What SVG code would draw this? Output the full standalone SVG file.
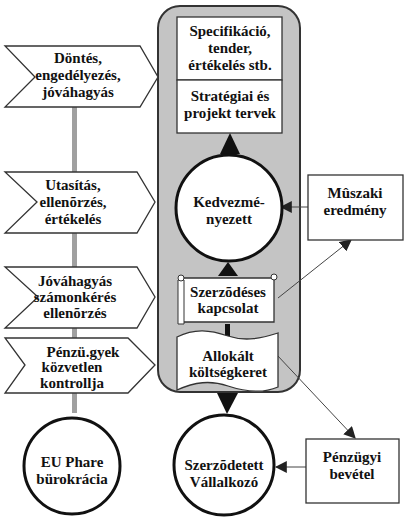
<svg xmlns="http://www.w3.org/2000/svg" width="409" height="526" viewBox="0 0 409 526">
<defs>
<style>
text{font-family:'Liberation Serif','Times New Roman',serif;font-weight:bold;font-size:15px;fill:#111;text-anchor:middle}
.chev{fill:#fff;stroke:#333;stroke-width:1.3}
.box{fill:#fff;stroke:#333;stroke-width:1.3}
.circ{fill:#fff;stroke:#111;stroke-width:3}
.thin{stroke:#444;stroke-width:1;fill:none}
.tri{fill:#111}
</style>
<marker id="ah" viewBox="0 0 10 10" refX="9" refY="5" markerWidth="12" markerHeight="12" markerUnits="userSpaceOnUse" orient="auto">
<path d="M0,0 L10,5 L0,10 Z" fill="#222"/>
</marker>
</defs>
<rect width="409" height="526" fill="#fff"/>
<g id="container">
<rect x="158" y="6" width="142" height="386" rx="22" fill="#c4c4c4" stroke="#333" stroke-width="2"/>
</g>
<g id="spine">
<rect x="72" y="107" width="5" height="306" fill="#a0a0a0"/>
</g>
<g id="connectors">
<polygon class="tri" points="230,133 220,154 240,154"/>
<polygon class="tri" points="228,262 218,276 238,276"/>
<rect x="225" y="324" width="5" height="12" fill="#111"/>
<polygon class="tri" points="217,393 238,393 227,414"/>
<line class="thin" x1="308" y1="207" x2="281" y2="207" marker-end="url(#ah)"/>
<line class="thin" x1="278" y1="298" x2="351" y2="240" marker-end="url(#ah)"/>
<line class="thin" x1="277" y1="355" x2="355" y2="438" marker-end="url(#ah)"/>
<line class="thin" x1="306" y1="467" x2="276" y2="467" marker-end="url(#ah)"/>
</g>
<g id="chev1">
<polygon class="chev" points="5,46 140,46 158,77 140,107 5,107 35,77"/>
<text x="78" y="63">Döntés,</text>
<text x="78" y="80">engedélyezés,</text>
<text x="78" y="97">jóváhagyás</text>
</g>
<g id="chev2">
<polygon class="chev" points="5,172 137,172 155,202 137,233 5,233 37,202"/>
<text x="73" y="190">Utasítás,</text>
<text x="73" y="207">ellenõrzés,</text>
<text x="73" y="224">értékelés</text>
</g>
<g id="chev3">
<polygon class="chev" points="5,267 137,267 155,297 137,328 5,328 38,297"/>
<text x="75" y="286">Jóváhagyás</text>
<text x="75" y="302">számonkérés</text>
<text x="75" y="318">ellenõrzés</text>
</g>
<g id="chev4">
<polygon class="chev" points="5,338 128,338 155,365 128,393 5,393 25,365"/>
<text x="83" y="357">Pénzü.gyek</text>
<text x="72" y="372">közvetlen</text>
<text x="72" y="388">kontrollja</text>
</g>
<g id="spec">
<rect class="box" x="177" y="17" width="105" height="63"/>
<text x="230" y="36">Specifikáció,</text>
<text x="230" y="53">tender,</text>
<text x="230" y="70">értékelés stb.</text>
</g>
<g id="strat">
<rect class="box" x="177" y="80" width="105" height="53"/>
<text x="230" y="101">Stratégiai és</text>
<text x="230" y="118">projekt tervek</text>
</g>
<g id="kedv">
<circle class="circ" cx="229" cy="208" r="53"/>
<text x="229" y="207">Kedvezmé-</text>
<text x="229" y="224">nyezett</text>
</g>
<g id="szerz">
<path class="box" d="M181,278 L274,278 L274,322 L181,322 Z"/>
<path d="M178,280 L178,324 L184,324 L184,280 Z" fill="#fff" stroke="#333" stroke-width="1"/>
<circle cx="181" cy="278" r="3" fill="#fff" stroke="#333" stroke-width="1"/>
<circle cx="274" cy="277" r="3" fill="#fff" stroke="#333" stroke-width="1"/>
<text x="228" y="297">Szerzõdéses</text>
<text x="228" y="313">kapcsolat</text>
</g>
<g id="alloc">
<path class="box" d="M177,337 C195,328 210,330 228,336 C246,342 262,338 278,333 L278,387 C262,394 246,392 228,386 C210,380 195,382 177,390 Z"/>
<text x="228" y="361">Allokált</text>
<text x="228" y="377">költségkeret</text>
</g>
<g id="muszaki">
<rect class="box" x="308" y="175" width="95" height="65"/>
<text x="355" y="198">Mûszaki</text>
<text x="355" y="215">eredmény</text>
</g>
<g id="penzugyi">
<rect class="box" x="306" y="439" width="93" height="64"/>
<text x="352" y="462">Pénzügyi</text>
<text x="352" y="479">bevétel</text>
</g>
<g id="eu">
<circle class="circ" cx="72" cy="466" r="48"/>
<text x="72" y="467">EU Phare</text>
<text x="72" y="484">bürokrácia</text>
</g>
<g id="vall">
<circle class="circ" cx="224" cy="465" r="50"/>
<text x="224" y="470">Szerzõdetett</text>
<text x="224" y="487">Vállalkozó</text>
</g>
</svg>
